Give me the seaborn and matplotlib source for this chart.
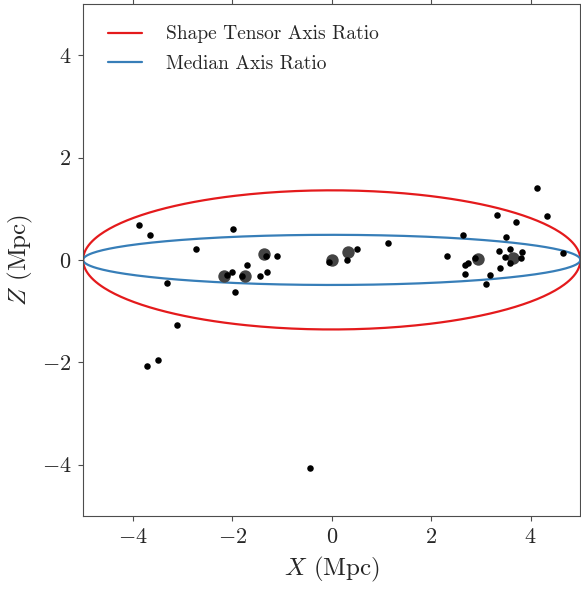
import matplotlib as mpl
import matplotlib.pyplot as plt
import numpy as np
import pandas as pd
import seaborn as sns

mpl.use("Agg")

# satellite positions (Mpc)
sat_x = [-3.88, -3.66, -1.99, -2.73, -3.32, -3.12, -1.94, -1.32, -1.11, -1.70,
         -2.10, -2.00, -1.81, -1.45, -1.31, -0.05, 0.50, 0.31, 1.14, 4.13,
         4.32, 3.32, 3.71, 2.63, 3.50, 3.58, 3.36, 3.83, 4.64, 2.31,
         2.88, 3.49, 3.58, 3.80, 2.67, 2.73, 3.38, 2.67, 3.19, 3.10,
         -3.72, -3.50, -0.44]
sat_z = [0.68, 0.49, 0.60, 0.21, -0.46, -1.27, -0.62, 0.07, 0.08, -0.10,
         -0.30, -0.23, -0.31, -0.32, -0.23, -0.04, 0.21, -0.01, 0.33, 1.40,
         0.86, 0.88, 0.75, 0.49, 0.44, 0.22, 0.17, 0.16, 0.13, 0.07,
         0.03, 0.05, -0.06, 0.04, -0.10, -0.07, -0.15, -0.27, -0.29, -0.47,
         -2.07, -1.96, -4.06]

# massive hosts (larger grey markers)
host_x = [-1.37, -2.16, -1.74, 0.00, 0.33, 2.95, 3.64]
host_z = [0.12, -0.31, -0.32, 0.00, 0.16, 0.02, 0.03]

# ellipse semi-axes (Mpc)
semi_major = 5.0
shape_tensor_minor = 1.36
median_minor = 0.49

sns.set_style("ticks")
plt.rcParams["font.family"] = "serif"
plt.rcParams["font.serif"] = ["cmr10", "DejaVu Serif"]
plt.rcParams["mathtext.fontset"] = "cm"
plt.rcParams["axes.formatter.use_mathtext"] = True

colors = sns.color_palette("Set1")

fig = plt.figure(figsize=(5.81, 5.90), dpi=100)
ax = fig.add_axes([0.143, 0.126, 0.856, 0.867])

t = np.linspace(0, 2 * np.pi, 400)
ell = pd.concat([
    pd.DataFrame({"x": semi_major * np.cos(t), "z": shape_tensor_minor * np.sin(t),
                  "kind": "Shape Tensor Axis Ratio", "t": t}),
    pd.DataFrame({"x": semi_major * np.cos(t), "z": median_minor * np.sin(t),
                  "kind": "Median Axis Ratio", "t": t}),
])
sns.lineplot(data=ell, x="x", y="z", hue="kind", units="kind", estimator=None, sort=False,
             palette=[colors[0], colors[1]], lw=1.6, ax=ax)

hosts = pd.DataFrame({"x": host_x, "z": host_z})
sats = pd.DataFrame({"x": sat_x, "z": sat_z})
sns.scatterplot(data=hosts, x="x", y="z", color="#444444", s=80, linewidth=0, ax=ax, zorder=3)
sns.scatterplot(data=sats, x="x", y="z", color="black", s=22, linewidth=0, ax=ax, zorder=4)

ax.set_xlim(-5, 5)
ax.set_ylim(-5, 5)
ax.set_xticks([-4, -2, 0, 2, 4])
ax.set_yticks([-4, -2, 0, 2, 4])
ax.tick_params(labelsize=16, direction="out", length=3.5, color="0.3",
               top=True, right=True, pad=5)
for s in ax.spines.values():
    s.set_color("0.3")
ax.set_xlabel(r"$X$ (Mpc)", fontsize=18, labelpad=6)
ax.set_ylabel(r"$Z$ (Mpc)", fontsize=18, labelpad=5)

leg = ax.legend(loc="upper left", bbox_to_anchor=(0, 1.008), frameon=False, fontsize=14,
                handlelength=1.75, borderaxespad=0.9, handletextpad=1.2, labelspacing=0.62)

fig.savefig("out.png", dpi=100)
